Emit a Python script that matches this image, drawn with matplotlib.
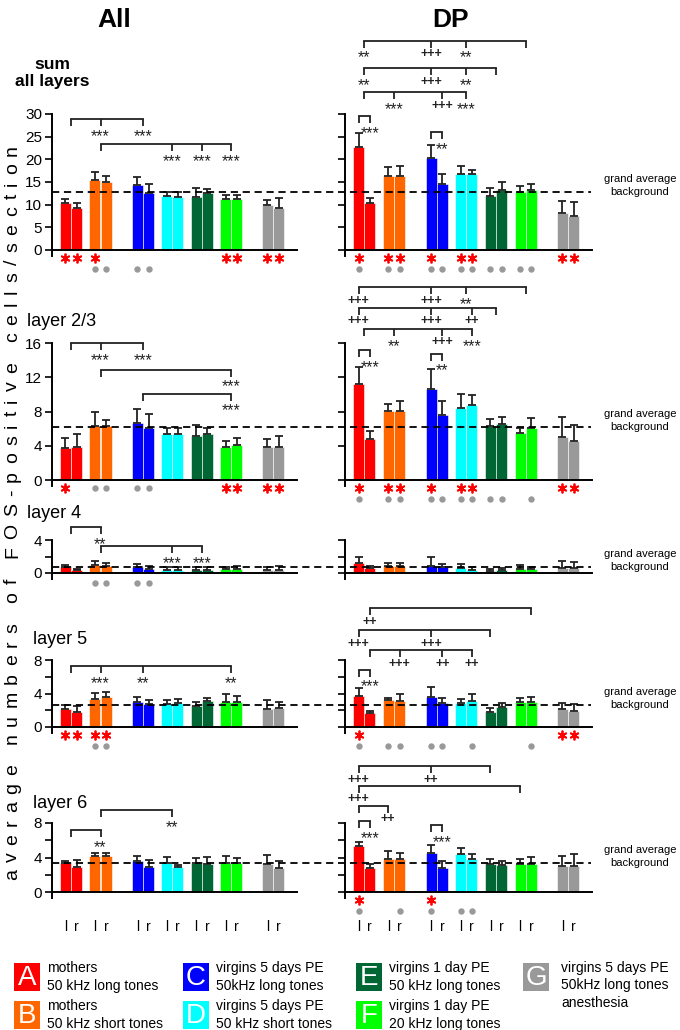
import matplotlib
matplotlib.use('Agg')
import matplotlib.pyplot as plt
from matplotlib.lines import Line2D
from matplotlib.patches import Rectangle
from matplotlib.font_manager import FontProperties, findfont

plt.rcParams['font.family'] = ['Liberation Sans', 'DejaVu Sans']

FIG_W, FIG_H, DPI = 680, 1030, 100

# ------------------------------------------------------------------ data
GROUPS = ['A', 'B', 'C', 'D', 'E', 'F', 'G']
COLORS = ['#ff0000', '#ff6600', '#0000ff', '#00ffff', '#006633', '#00ff00', '#999999']
GROUP_POS = [0, 1, 2.44, 3.43, 4.43, 5.43, 6.85]
HEMI = ['l', 'r']

LEGEND_TEXT = ['mothers\n50 kHz long tones',
               'mothers\n50 kHz short tones',
               'virgins 5 days PE\n50kHz long tones',
               'virgins 5 days PE\n50 kHz short tones',
               'virgins 1 day PE\n50 kHz long tones',
               'virgins 1 day PE\n20 kHz long tones',
               'virgins 5 days PE\n50kHz long tones\nanesthesia']

ROW_TITLES = ['sum\nall layers', 'layer 2/3', 'layer 4', 'layer 5', 'layer 6']
COL_TITLES = ['All', 'DP']
YLABEL = 'average numbers of FOS-positive cells/section'

# sum of all layers
SUM_ALL_L = [10.3, 15.4, 14.3, 12.0, 11.6, 11.2, 9.9]
SUM_ALL_L_SEM = [0.95, 1.9, 1.7, 0.9, 2.15, 0.9, 1.1]
SUM_ALL_R = [9.2, 15.1, 12.5, 11.6, 12.5, 11.2, 9.3]
SUM_ALL_R_SEM = [1.2, 1.2, 2.1, 1.3, 0.9, 0.9, 2.1]
SUM_DP_L = [22.8, 16.3, 20.2, 16.8, 12.0, 12.8, 8.2]
SUM_DP_L_SEM = [2.9, 1.9, 3.0, 1.7, 1.6, 1.4, 2.7]
SUM_DP_R = [10.3, 16.3, 14.6, 16.8, 13.2, 13.2, 7.4]
SUM_DP_R_SEM = [1.1, 2.2, 2.2, 0.8, 1.9, 1.4, 3.2]
# layer 2/3
L23_ALL_L = [3.7, 6.3, 6.6, 5.35, 5.1, 3.9, 3.9]
L23_ALL_L_SEM = [1.2, 1.7, 1.7, 0.75, 1.35, 0.6, 0.85]
L23_ALL_R = [3.9, 6.3, 6.05, 5.35, 5.35, 4.1, 3.9]
L23_ALL_R_SEM = [1.5, 0.65, 1.65, 0.75, 0.7, 0.8, 1.2]
L23_DP_L = [11.2, 8.1, 10.6, 8.4, 6.3, 5.5, 5.0]
L23_DP_L_SEM = [2.0, 0.75, 2.4, 1.6, 0.8, 0.6, 2.4]
L23_DP_R = [4.75, 8.1, 7.6, 8.75, 6.5, 6.1, 4.5]
L23_DP_R_SEM = [0.95, 1.1, 1.6, 1.15, 0.8, 1.1, 1.9]
# layer 4
L4_ALL_L = [0.67, 1.03, 0.67, 0.4, 0.42, 0.45, 0.36]
L4_ALL_L_SEM = [0.33, 0.37, 0.39, 0.27, 0.25, 0.22, 0.37]
L4_ALL_R = [0.36, 0.8, 0.52, 0.4, 0.42, 0.5, 0.4]
L4_ALL_R_SEM = [0.09, 0.47, 0.38, 0.27, 0.25, 0.38, 0.4]
L4_DP_L = [1.18, 0.82, 0.88, 0.58, 0.27, 0.52, 0.64]
L4_DP_L_SEM = [0.7, 0.45, 1.0, 0.48, 0.18, 0.51, 0.78]
L4_DP_R = [0.58, 0.82, 0.67, 0.4, 0.36, 0.52, 0.64]
L4_DP_R_SEM = [0.3, 0.38, 0.39, 0.27, 0.22, 0.21, 0.69]
# layer 5
L5_ALL_L = [2.18, 3.37, 2.97, 2.7, 2.46, 2.97, 2.14]
L5_ALL_L_SEM = [0.47, 0.67, 0.59, 0.47, 0.51, 0.95, 1.11]
L5_ALL_R = [1.78, 3.56, 2.77, 2.85, 3.05, 2.97, 2.26]
L5_ALL_R_SEM = [0.67, 0.6, 0.48, 0.48, 0.4, 0.79, 0.67]
L5_DP_L = [3.73, 3.2, 3.57, 2.82, 1.84, 2.94, 2.2]
L5_DP_L_SEM = [0.87, 0.3, 1.21, 0.58, 0.46, 0.56, 0.66]
L5_DP_R = [1.65, 3.14, 2.82, 3.14, 2.43, 2.94, 1.92]
L5_DP_R_SEM = [0.31, 0.76, 0.63, 0.82, 0.39, 0.66, 0.83]
# layer 6
L6_ALL_L = [3.32, 4.18, 3.6, 3.32, 3.32, 3.4, 3.24]
L6_ALL_L_SEM = [0.31, 0.39, 0.58, 0.78, 0.68, 0.78, 1.06]
L6_ALL_R = [2.93, 4.18, 2.85, 2.85, 3.2, 3.32, 2.77]
L6_ALL_R_SEM = [0.77, 0.39, 0.85, 0.28, 0.82, 0.68, 0.86]
L6_DP_L = [5.3, 3.86, 4.52, 4.36, 3.2, 3.28, 3.05]
L6_DP_L_SEM = [0.5, 0.84, 0.88, 0.77, 0.66, 0.58, 1.08]
L6_DP_R = [2.78, 3.86, 2.78, 3.86, 3.1, 3.28, 2.97]
L6_DP_R_SEM = [0.5, 0.7, 0.82, 0.5, 0.5, 0.77, 1.39]

GRAND_AVG = [12.7, 6.15, 0.7, 2.63, 3.38]

Y_MAX = [30, 16, 4, 8, 8]
Y_TICKS = [[0, 5, 10, 15, 20, 25, 30], [0, 4, 8, 12, 16], [0, 2, 4], [0, 2, 4, 6, 8], [0, 2, 4, 6, 8]]
Y_TICKLABELS = [['0', '5', '10', '15', '20', '25', '30'], ['0', '4', '8', '12', '16'],
                ['0', '', '4'], ['0', '', '4', '', '8'], ['0', '', '4', '', '8']]

# significance brackets: (height, [(bar, label), ...])
BRACKETS = [
    [[(28.8, [('A', ''), ('B', '***'), ('C', '***')]),
      (23.3, [('B', ''), ('D', '***'), ('E', '***'), ('F', '***')])],
     [(46.2, [('A', '**'), ('Cl', '+++'), ('D', '**'), ('F', '')]),
      (40.1, [('A', '**'), ('Cl', '+++'), ('D', '**'), ('E', '')]),
      (34.8, [('A', ''), ('B', '***'), ('Cr', '+++'), ('D', '***')]),
      (29.6, [('Al', ''), ('Ar', '***')]),
      (26.1, [('Cl', ''), ('Cr', '**')])]],
    [[(16.0, [('A', ''), ('B', '***'), ('C', '***')]),
      (12.9, [('B', ''), ('F', '***')]),
      (10.1, [('C', ''), ('F', '***')])],
     [(22.5, [('Al', '+++'), ('Cl', '+++'), ('D', '**'), ('F', '')]),
      (20.1, [('Al', '+++'), ('Cl', '+++'), ('Dr', '++'), ('E', '')]),
      (17.65, [('A', ''), ('B', '**'), ('Cr', '+++'), ('Dr', '***')]),
      (15.2, [('Al', ''), ('Ar', '***')]),
      (14.76, [('Cl', ''), ('Cr', '**')])]],
    [[(5.6, [('A', ''), ('B', '**')]),
      (3.3, [('B', ''), ('D', '***'), ('E', '***')])],
     []],
    [[(7.3, [('A', ''), ('B', '***'), ('C', '**'), ('F', '**')])],
     [(14.2, [('Ar', '++'), ('Fr', '')]),
      (11.57, [('Al', '+++'), ('Cl', '+++'), ('El', '')]),
      (9.18, [('Ar', ''), ('Br', '+++'), ('Cr', '++'), ('Dr', '++')]),
      (6.86, [('Al', ''), ('Ar', '***')])]],
    [[(9.5, [('B', ''), ('D', '**')]),
      (7.15, [('A', ''), ('B', '**')])],
     [(14.6, [('Al', '+++'), ('Cl', '++'), ('El', '')]),
      (12.3, [('Al', '+++'), ('Fl', '')]),
      (10.0, [('Al', ''), ('Bl', '++')]),
      (8.26, [('Al', ''), ('Ar', '***')]),
      (7.76, [('Cl', ''), ('Cr', '***')])]],
]

# red asterisks and grey dots under bars
STARS = [
    [['Al', 'Ar', 'Bl', 'Fl', 'Fr', 'Gl', 'Gr'], ['Al', 'Bl', 'Br', 'Cl', 'Dl', 'Dr', 'Gl', 'Gr']],
    [['Al', 'Fl', 'Fr', 'Gl', 'Gr'], ['Al', 'Bl', 'Br', 'Cl', 'Dl', 'Dr', 'Gl', 'Gr']],
    [[], []],
    [['Al', 'Ar', 'Bl', 'Br'], ['Al', 'Gl', 'Gr']],
    [[], ['Al', 'Cl']],
]
DOTS = [
    [['Bl', 'Br', 'Cl', 'Cr'], ['Al', 'Bl', 'Br', 'Cl', 'Cr', 'Dl', 'Dr', 'El', 'Er', 'Fl', 'Fr']],
    [['Bl', 'Br', 'Cl', 'Cr'], ['Al', 'Bl', 'Br', 'Cl', 'Cr', 'Dl', 'Dr', 'El', 'Er', 'Fr']],
    [['Bl', 'Br', 'Cl', 'Cr'], []],
    [['Bl', 'Br'], ['Al', 'Bl', 'Br', 'Cl', 'Cr', 'Dr', 'Fr']],
    [[], ['Al', 'Br', 'Cl', 'Dl', 'Dr']],
]
DOT_ROW = [[2, 2], [1, 2], [1, 1], [2, 2], [1, 2]]

DATA = [
    [(SUM_ALL_L, SUM_ALL_L_SEM, SUM_ALL_R, SUM_ALL_R_SEM), (SUM_DP_L, SUM_DP_L_SEM, SUM_DP_R, SUM_DP_R_SEM)],
    [(L23_ALL_L, L23_ALL_L_SEM, L23_ALL_R, L23_ALL_R_SEM), (L23_DP_L, L23_DP_L_SEM, L23_DP_R, L23_DP_R_SEM)],
    [(L4_ALL_L, L4_ALL_L_SEM, L4_ALL_R, L4_ALL_R_SEM), (L4_DP_L, L4_DP_L_SEM, L4_DP_R, L4_DP_R_SEM)],
    [(L5_ALL_L, L5_ALL_L_SEM, L5_ALL_R, L5_ALL_R_SEM), (L5_DP_L, L5_DP_L_SEM, L5_DP_R, L5_DP_R_SEM)],
    [(L6_ALL_L, L6_ALL_L_SEM, L6_ALL_R, L6_ALL_R_SEM), (L6_DP_L, L6_DP_L_SEM, L6_DP_R, L6_DP_R_SEM)],
]

# ------------------------------------------------------------------ layout (pixels)
ROW_TOP = [114, 343, 540, 660, 823]
ROW_ZERO = [250, 480, 573, 727, 892]
COL_X = [(52, 245), (345, 247)]
XLIM = (-0.644, 7.66)
PAD = 6
HALF = 0.19
BAR_W = 0.37
LINE_C = '#222222'


def fx(px):
    return px / FIG_W


def fy(py):
    return 1 - py / FIG_H


def bar_x(key):
    x = GROUP_POS[GROUPS.index(key[0])]
    if len(key) > 1:
        x += -HALF if key[1] == 'l' else HALF
    return x


fig = plt.figure(figsize=(FIG_W / DPI, FIG_H / DPI), dpi=DPI)

for r in range(5):
    top, zero, ymax = ROW_TOP[r], ROW_ZERO[r], Y_MAX[r]
    ppu = (zero - top) / ymax
    for c in range(2):
        lx, wx = COL_X[c]
        ax = fig.add_axes([fx(lx), fy(zero + PAD), wx / FIG_W, (zero + PAD - top) / FIG_H])
        ax.set_xlim(*XLIM)
        ax.set_ylim(-PAD / ppu, ymax)
        ax.patch.set_alpha(0)
        for s in ['top', 'right']:
            ax.spines[s].set_visible(False)
        ax.spines['bottom'].set_position(('data', 0))
        for s in ['left', 'bottom']:
            ax.spines[s].set_linewidth(1.4)
            ax.spines[s].set_color('black')
        ax.set_xticks([])
        ax.set_yticks(Y_TICKS[r])
        if c == 0:
            ax.set_yticklabels(Y_TICKLABELS[r])
        else:
            ax.set_yticklabels([])
        ax.tick_params(axis='y', direction='out', length=5, width=1.2, labelsize=11, pad=2)

        ml, sl, mr, sr = DATA[r][c]
        for h, (means, sems) in enumerate([(ml, sl), (mr, sr)]):
            xs = [p + (-HALF if h == 0 else HALF) for p in GROUP_POS]
            ax.bar(xs, means, width=BAR_W, color=COLORS, edgecolor='white', linewidth=0.4, zorder=2)
            ax.errorbar(xs, means, yerr=[[0] * len(means), sems], fmt='none', ecolor=LINE_C,
                        elinewidth=1.3, capsize=2.8, capthick=1.3, zorder=3)

        # brackets
        for yb, marks in BRACKETS[r][c]:
            xs = [bar_x(m) for m, _ in marks]
            ax.plot([min(xs), max(xs)], [yb, yb], color=LINE_C, lw=1.3, clip_on=False,
                    solid_capstyle='projecting', zorder=4)
            for (m, lab), x in zip(marks, xs):
                ax.plot([x, x], [yb, yb - 7 / ppu], color=LINE_C, lw=1.3, clip_on=False,
                        solid_capstyle='butt', zorder=4)
                if lab:
                    if '*' in lab:
                        ax.text(x, yb - 17.5 / ppu, lab, fontsize=11.5, ha='center', va='center',
                                color=LINE_C, clip_on=False)
                    else:
                        ax.text(x, yb - 13.5 / ppu, lab, fontsize=9, ha='center', va='center',
                                color=LINE_C, fontweight='bold', clip_on=False)

        # marks below the axis
        star_x = [bar_x(k) for k in STARS[r][c]]
        if star_x:
            ax.plot(star_x, [-8 / ppu] * len(star_x), linestyle='none', marker=(6, 2, 0),
                    markersize=7, markeredgewidth=1.3, color='#ff0000', clip_on=False)
        dot_x = [bar_x(k) for k in DOTS[r][c]]
        if dot_x:
            off = 8 if DOT_ROW[r][c] == 1 else 19
            if r == 2:
                off = 10
            ax.plot(dot_x, [-off / ppu] * len(dot_x), linestyle='none', marker='o',
                    markersize=4.6, color='#999999', markeredgewidth=0, clip_on=False)
        if r == 4:
            for g in GROUP_POS:
                for h, lab in zip((-HALF, HALF), HEMI):
                    ax.text(g + h, -35 / ppu, lab, fontsize=10, ha='center', va='center', clip_on=False)

    # grand average dashed line across both panels
    ypx = zero - GRAND_AVG[r] * ppu
    fig.add_artist(Line2D([fx(52), fx(591)], [fy(ypx), fy(ypx)], color='black', lw=1.3,
                          linestyle=(0, (4, 2.6)), zorder=5))
    fig.text(fx(640), fy(ypx - 13), 'grand average', fontsize=8, ha='center', va='center')
    fig.text(fx(640), fy(ypx), 'background', fontsize=8, ha='center', va='center')

# row titles
fig.text(fx(52), fy(73), ROW_TITLES[0], fontsize=12.5, fontweight='bold', ha='center', va='center',
         linespacing=1.2)
ROW_TITLE_POS = [None, (27, 322), (27, 514), (33, 639), (33, 803)]
for r in range(1, 5):
    x, y = ROW_TITLE_POS[r]
    fig.text(fx(x), fy(y), ROW_TITLES[r], fontsize=13, ha='left', va='center')

# column titles
fig.text(fx(114), fy(20), COL_TITLES[0], fontsize=19, fontweight='bold', ha='center', va='center')
fig.text(fx(451), fy(20), COL_TITLES[1], fontsize=19, fontweight='bold', ha='center', va='center')

# spaced vertical y label
YL_FS = 14
try:
    from matplotlib.ft2font import FT2Font
    font = FT2Font(findfont(FontProperties(family='Liberation Sans')), hinting_factor=1)
    font.set_size(YL_FS, DPI)
    advs = [font.load_char(ord(ch)).linearHoriAdvance / 65536.0 for ch in YLABEL]
except Exception:
    advs = [0.55 * YL_FS * DPI / 72.0 for ch in YLABEL]
y_bottom, y_top = 880, 145
track = ((y_bottom - y_top) - sum(advs)) / (len(YLABEL) - 1)
cum = 0.0
for ch, a in zip(YLABEL, advs):
    yc = y_bottom - (cum + a / 2)
    if ch != ' ':
        fig.text(fx(17), fy(yc), ch, fontsize=YL_FS, rotation=90, rotation_mode='anchor',
                 ha='center', va='baseline')
    cum += a + track

# legend
LEG_POS = [(14, 963), (14, 1001), (183, 963), (183, 1001), (356, 963), (356, 1001), (523, 963)]
BOX_W, BOX_H = 26, 28
for i, g in enumerate(GROUPS):
    bx, by = LEG_POS[i]
    fig.add_artist(Rectangle((fx(bx), fy(by + BOX_H)), BOX_W / FIG_W, BOX_H / FIG_H,
                             facecolor=COLORS[i], edgecolor='none', transform=fig.transFigure))
    fig.text(fx(bx + BOX_W / 2), fy(by + BOX_H / 2 + 1), g, color='white', fontsize=20,
             ha='center', va='center')
    tx = bx + BOX_W + (7 if i < 6 else 12)
    if i < 6:
        fig.text(fx(tx), fy(by + BOX_H / 2), LEGEND_TEXT[i], fontsize=10, ha='left', va='center',
                 linespacing=1.3)
    else:
        fig.text(fx(tx), fy(by - 2), LEGEND_TEXT[i], fontsize=10, ha='left', va='top',
                 linespacing=1.3)

fig.savefig('out.png', dpi=DPI)
